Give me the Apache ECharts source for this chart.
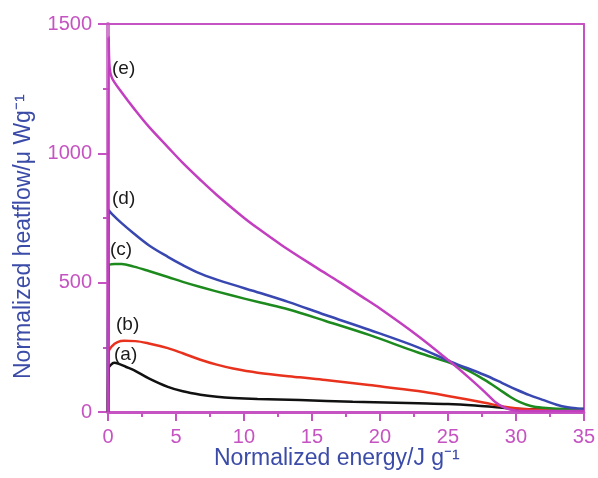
<!DOCTYPE html>
<html>
<head>
<meta charset="utf-8">
<script src="https://cdn.jsdelivr.net/npm/echarts@6/dist/echarts.min.js"></script>
<style>
  html, body { margin: 0; padding: 0; background: #fff; }
  #chart { width: 598px; height: 478px; }
</style>
</head>
<body>
<div id="chart"></div>
<script>
// Normalized energy (J/g) and heat flow (µW/g) for the five samples
const energyA = [0, 0.05, 0.2, 0.45, 0.8, 1.3, 1.9, 3, 4.4, 5.5, 6.8, 8, 9.2, 11, 14.1, 18, 22.8, 25, 27, 28.4, 29.5, 31, 35];
const heatA   = [0, 170, 182, 190, 186, 175, 162, 130, 97, 80, 67, 59, 54, 50, 46, 40, 34, 31, 25, 19, 14, 11, 10];

const energyB = [0, 0.05, 0.3, 0.7, 1.2, 2, 3, 4.4, 5.5, 6.8, 8, 9.2, 11, 14.1, 16, 19.2, 22.8, 25.2, 27.7, 28.6, 29.4, 30.5, 32, 35];
const heatB   = [0, 232, 255, 270, 275, 274, 265, 247, 227, 202, 183, 168, 152, 134, 124, 104, 81, 60, 36, 26, 18, 12, 10, 10];

const energyC = [0, 0.05, 0.5, 1, 1.9, 3, 4.4, 5.5, 6.8, 9, 11.2, 13.3, 16, 19.2, 22.8, 25.2, 26.5, 27.7, 28.7, 29.6, 30.3, 31.1, 32, 33, 35];
const heatC   = [0, 565, 572, 572, 562, 545, 522, 503, 483, 452, 423, 396, 352, 298, 230, 189, 160, 124, 90, 58, 38, 23, 16, 13, 12];

const energyD = [0, 0.05, 0.3, 1, 1.9, 3, 4.4, 5.5, 6.8, 8.5, 11.2, 13.3, 16, 19.2, 22.8, 25.2, 27.7, 29, 30.1, 31, 32.1, 33, 33.8, 34.5, 35];
const heatD   = [0, 780, 765, 730, 690, 645, 600, 568, 535, 503, 460, 425, 375, 318, 250, 195, 143, 112, 85, 65, 45, 28, 18, 14, 13];

const energyE = [0, 0.05, 0.12, 0.3, 1, 2, 3, 4.4, 5.5, 6.8, 8, 9.9, 11, 12.8, 15.3, 17, 18.7, 20, 22.8, 25.2, 26.5, 27.7, 28.5, 29.2, 30, 31, 35];
const heatE   = [0, 1450, 1330, 1290, 1236, 1167, 1103, 1024, 963, 897, 839, 755, 711, 644, 559, 503, 445, 400, 294, 193, 135, 78, 38, 16, 6, 4, 4];

const xTicks = { min: 0, max: 35, step: 5 };
const yTicks = { min: 0, max: 1500, step: 500 };

const sampleLabels = ['(a)', '(b)', '(c)', '(d)', '(e)'];

const axisColor = '#c653c2';
const titleColor = '#3b4ba8';
const font = '"Liberation Sans", Arial, sans-serif';

const pairs = (xs, ys) => xs.map((x, i) => [x, ys[i]]);

const curves = [
  { name: sampleLabels[0], data: pairs(energyA, heatA), color: '#111111' },
  { name: sampleLabels[1], data: pairs(energyB, heatB), color: '#e8321e' },
  { name: sampleLabels[2], data: pairs(energyC, heatC), color: '#1d8a1d' },
  { name: sampleLabels[3], data: pairs(energyD, heatD), color: '#3848b0' },
  { name: sampleLabels[4], data: pairs(energyE, heatE), color: '#c23fc0' }
];

// curve tags placed just right of where each trace starts
const labelAnchors = [
  { text: sampleLabels[0], left: 114, top: 345 },
  { text: sampleLabels[1], left: 116, top: 315 },
  { text: sampleLabels[2], left: 110, top: 240 },
  { text: sampleLabels[3], left: 112, top: 189 },
  { text: sampleLabels[4], left: 112, top: 59 }
];

const plain = v => String(v);
const off = { show: false };

// frame axes: plain lines on the top and right edges
const frameLine = { show: true, onZero: false, lineStyle: { color: axisColor, width: 2 } };

// tick-only axes share the scale of the labelled axes and sit on the same edge
const tickStyle = { color: axisColor, width: 2 };

const chart = echarts.init(document.getElementById('chart'));

chart.setOption({
  animation: false,
  grid: { left: 108, top: 24, width: 479, height: 388 },
  xAxis: [
    {
      type: 'value', position: 'bottom',
      min: xTicks.min, max: xTicks.max, interval: xTicks.step,
      axisLine: { show: true, onZero: false, lineStyle: { color: axisColor, width: 3 } },
      axisTick: off,
      axisLabel: { color: axisColor, fontSize: 20, fontFamily: font, margin: 15, formatter: plain },
      splitLine: off
    },
    {
      type: 'value', position: 'bottom',
      min: xTicks.min, max: xTicks.max, interval: xTicks.step,
      axisLine: { show: false, onZero: false },
      axisTick: { show: true, inside: false, length: 9, lineStyle: tickStyle },
      minorTick: { show: true, splitNumber: 2, length: 5, lineStyle: tickStyle },
      axisLabel: off, splitLine: off
    },
    {
      type: 'value', position: 'top',
      min: xTicks.min, max: xTicks.max, interval: xTicks.step,
      axisLine: frameLine, axisTick: off, axisLabel: off, splitLine: off
    }
  ],
  yAxis: [
    {
      type: 'value', position: 'left',
      min: yTicks.min, max: yTicks.max, interval: yTicks.step,
      axisLine: { show: true, onZero: false, lineStyle: { color: '#d07fcd', width: 4 } },
      axisTick: off,
      axisLabel: { color: axisColor, fontSize: 20, fontFamily: font, margin: 16, formatter: plain },
      splitLine: off
    },
    {
      type: 'value', position: 'left',
      min: yTicks.min, max: yTicks.max, interval: yTicks.step,
      axisLine: { show: false, onZero: false },
      axisTick: { show: true, inside: false, length: 10, lineStyle: tickStyle },
      minorTick: { show: true, splitNumber: 2, length: 5, lineStyle: tickStyle },
      axisLabel: off, splitLine: off
    },
    {
      type: 'value', position: 'right',
      min: yTicks.min, max: yTicks.max, interval: yTicks.step,
      axisLine: frameLine, axisTick: off, axisLabel: off, splitLine: off
    }
  ],
  series: curves.map(c => ({
    type: 'line',
    name: c.name,
    xAxisIndex: 0,
    yAxisIndex: 0,
    data: c.data,
    showSymbol: false,
    smooth: 0.35,
    lineStyle: { color: c.color, width: 2.5 },
    z: 3
  })),
  graphic: [
    ...labelAnchors.map(l => ({
      type: 'text', left: l.left, top: l.top, z: 10,
      style: { text: l.text, fill: '#1a1a1a', font: '19px ' + font }
    })),
    {
      type: 'text', left: 214, top: 447, z: 10,
      style: { text: 'Normalized energy/J g\u207B\u00B9', fill: titleColor, font: '23px ' + font }
    },
    {
      type: 'text', z: 10, x: 12, y: 379, rotation: Math.PI / 2,
      style: { text: 'Normalized heatflow/\u03BC Wg\u207B\u00B9', fill: titleColor, font: '23px ' + font }
    }
  ]
});
</script>
</body>
</html>
